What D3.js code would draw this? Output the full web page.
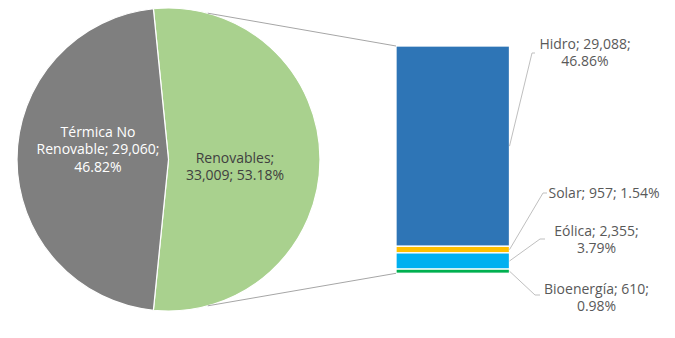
<!DOCTYPE html>
<html>
<head>
<meta charset="utf-8">
<script src="https://cdn.jsdelivr.net/npm/d3@7/dist/d3.min.js"></script>
<style>
  html, body { margin: 0; padding: 0; background: #fff; }
  svg { display: block; }
  text { font-family: "Open Sans", "Lato", sans-serif; font-size: 14px; }
</style>
</head>
<body>
<svg id="chart" width="675" height="338"></svg>
<script>
// ---- data ----
const pieCategories = ["Térmica No Renovable", "Renovables"];
const pieLabelLines = [["Térmica No", "Renovable; 29,060;", "46.82%"], ["Renovables;", "33,009; 53.18%"]];
const pieValues = [29060, 33009];
const piePercents = ["46.82%", "53.18%"];
const pieColors = ["#7f7f7f", "#a9d18e"];

const barCategories = ["Hidro", "Solar", "Eólica", "Bioenergía"];
const barValues = [29088, 957, 2355, 610];
const barPercents = ["46.86%", "1.54%", "3.79%", "0.98%"];
const barColors = ["#2e75b6", "#ffc000", "#00b0f0", "#00b050"];

// ---- layout ----
const svg = d3.select("#chart");
const W = 675, H = 338;
const cx = 168.5, cy = 159.5, R = 151.5;
const splitIndex = 1; // Renovables expanded into the bar
const totalPie = d3.sum(pieValues);
const splitShare = pieValues[splitIndex] / totalPie;
const startA = Math.PI / 2 - splitShare * Math.PI;

const order = [splitIndex, 1 - splitIndex];
const pie = d3.pie().sort(null).value(i => pieValues[i])
  .startAngle(startA).endAngle(startA + 2 * Math.PI);
const arcs = pie(order);
const arc = d3.arc().innerRadius(0).outerRadius(R);

const gPie = svg.append("g").attr("transform", `translate(${cx},${cy})`);
gPie.selectAll("path").data(arcs).join("path")
  .attr("d", arc)
  .attr("fill", d => pieColors[d.data])
  .attr("stroke", "#fff").attr("stroke-width", 1.2);

// pie labels
const pieLabelPos = { 0: [98 - cx, 132 - cy], 1: [235 - cx, 158 - cy] };
const pieLabelColor = ["#ffffff", "#404040"];
arcs.forEach(d => {
  const i = d.data;
  const t = gPie.append("text")
    .attr("text-anchor", "middle")
    .attr("fill", pieLabelColor[i])
    .attr("transform", `translate(${pieLabelPos[i][0]},${pieLabelPos[i][1]})`);
  pieLabelLines[i].forEach((ln, k) => {
    t.append("tspan").attr("x", 0).attr("y", k * 17.5).attr("dy", "0.35em").text(ln);
  });
});

// ---- bar ----
const barX = 396, barW = 113.5, barTop = 46, barBottom = 273.3;
const barTotal = d3.sum(barValues);
const y = d3.scaleLinear().domain([0, barTotal]).range([barBottom, barTop]);

// stack from bottom: last category at bottom
const segs = [];
let acc = 0;
for (let i = barCategories.length - 1; i >= 0; i--) {
  segs[i] = { i, y0: acc, y1: acc + barValues[i] };
  acc += barValues[i];
}
const gBar = svg.append("g");
gBar.selectAll("rect").data(segs).join("rect")
  .attr("x", barX).attr("width", barW)
  .attr("y", d => y(d.y1)).attr("height", d => y(d.y0) - y(d.y1))
  .attr("fill", d => barColors[d.i])
  .attr("stroke", "#fff").attr("stroke-width", 1.3);

// connector lines pie -> bar
const connA = [15 * Math.PI / 180, 165 * Math.PI / 180];
const connY = [y(barTotal), y(0)];
connA.forEach((a, k) => {
  svg.append("line")
    .attr("x1", cx + R * Math.sin(a)).attr("y1", cy - R * Math.cos(a))
    .attr("x2", barX).attr("y2", connY[k])
    .attr("stroke", "#a6a6a6").attr("stroke-width", 1);
});

// bar labels
const barLabelLines = barCategories.map((c, i) => {
  const full = `${c}; ${d3.format(",")(barValues[i])}; ${barPercents[i]}`;
  return i === 1 ? [full] : [`${c}; ${d3.format(",")(barValues[i])};`, barPercents[i]];
});
const labelCenter = [[585, 44], [604, 193], [596.5, 231], [596.5, 289]];
const leaderEnd = [[532, 53, 535], [543, 193, 547], [540, 239, 545], [535, 295, 540]];

segs.forEach(d => {
  const i = d.i;
  const midY = (y(d.y0) + y(d.y1)) / 2;
  const le = leaderEnd[i];
  svg.append("polyline")
    .attr("points", `${barX + barW},${midY} ${le[0]},${le[1]} ${le[2]},${le[1]}`)
    .attr("fill", "none").attr("stroke", "#bfbfbf").attr("stroke-width", 1);
  const t = svg.append("text").attr("text-anchor", "middle").attr("fill", "#595959")
    .attr("transform", `translate(${labelCenter[i][0]},${labelCenter[i][1]})`);
  barLabelLines[i].forEach((ln, k) => {
    t.append("tspan").attr("x", 0).attr("y", k * 17).attr("dy", "0.35em").text(ln);
  });
});
</script>
</body>
</html>
